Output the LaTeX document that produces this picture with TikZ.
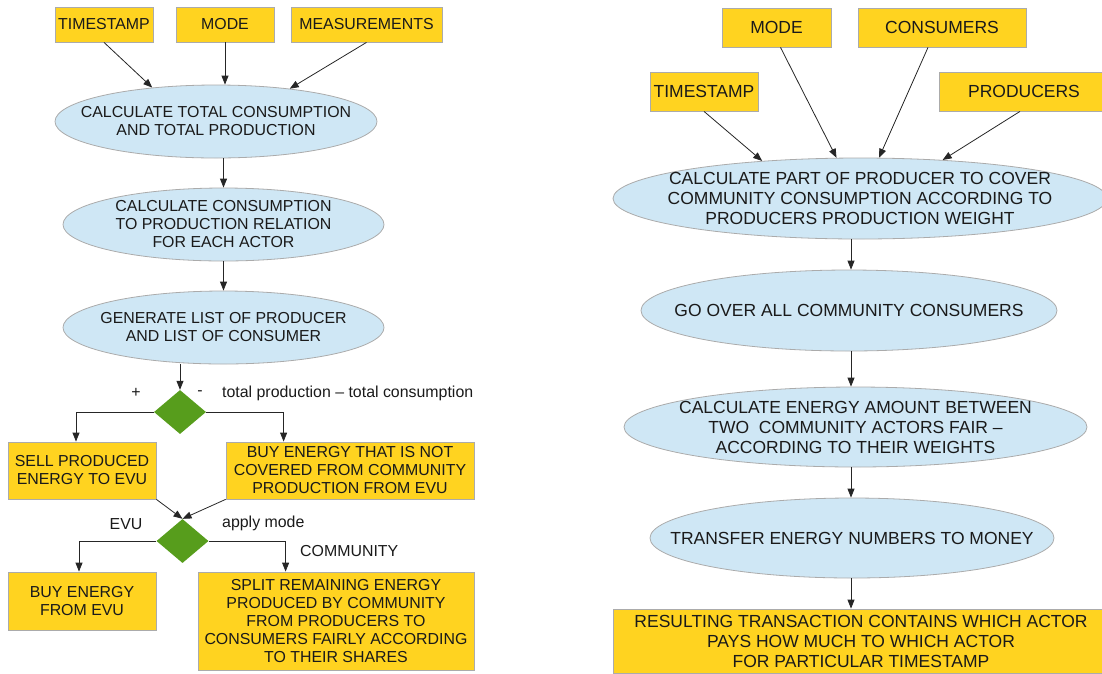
\documentclass[tikz,border=0pt]{standalone}
\usepackage{fontspec}
\setmainfont{Liberation Sans}
\usepackage{tikz}
\usetikzlibrary{arrows.meta,shapes.geometric,positioning,calc}
\definecolor{inyellow}{HTML}{FFD320}
\definecolor{procblue}{HTML}{CFE7F5}
\definecolor{decgreen}{HTML}{579D1C}
\definecolor{edgegray}{HTML}{ABABAB}
\definecolor{txt}{HTML}{1A1A1A}
\tikzset{wh/.style 2 args={minimum width=#1, minimum height=#2},
         small/.style={font=\fontsize{15.9}{18}\selectfont},
         big/.style={font=\fontsize{17.5}{20}\selectfont},
         inbox/.style={draw=edgegray, fill=inyellow, line width=0.8pt, inner sep=0pt, align=center, text=txt},
         proc/.style={ellipse, draw=edgegray, fill=procblue, line width=0.8pt, inner sep=0pt},
         ptext/.style={align=center, text=txt, inner sep=0pt},
         dec/.style={diamond, fill=decgreen, inner sep=0pt, minimum width=52pt, minimum height=44pt},
         lbl/.style={inner sep=0pt, text=txt},
         flow/.style={-{Triangle[length=9pt,width=7pt]}, draw=black!85, line width=0.8pt}
        }
\begin{document}
\begin{tikzpicture}[x=1pt,y=-1pt,small]
\useasboundingbox (0,0) rectangle (1102,673);
\node[inbox, wh={98pt}{35pt}] at (104,24.5)(ts1){TIMESTAMP};
\node[inbox, wh={98pt}{35pt}] at (225,24.5)(md1){MODE};
\node[inbox, wh={151pt}{35pt}] at (366.5,24.5)(ms1){MEASUREMENTS};
\node[proc, wh={322pt}{73pt}, label={[ptext,small]center:CALCULATE TOTAL CONSUMPTION\\AND TOTAL PRODUCTION}] at (216,121.5)(tot){};
\node[proc, wh={321pt}{73pt}, label={[ptext,small]center:CALCULATE CONSUMPTION\\TO PRODUCTION RELATION\\FOR EACH ACTOR}] at (223.5,224.5)(rel){};
\node[proc, wh={321pt}{73pt}, label={[ptext,small]center:GENERATE LIST OF PRODUCER\\AND LIST OF CONSUMER}] at (223.5,327.5)(gen){};
\node[dec] at (180,412)(dia1){};
\node[lbl] at (136,393)(plus){+};
\node[lbl] at (200,393)(minus){-};
\node[lbl, anchor=west] at (222,393)(diff){total production -- total consumption};
\node[inbox, wh={148pt}{57pt}] at (82,470.5)(sell){SELL PRODUCED\\ENERGY TO EVU};
\node[inbox, wh={248pt}{57pt}] at (350,470.5)(buy){BUY ENERGY THAT IS NOT\\COVERED FROM COMMUNITY\\PRODUCTION FROM EVU};
\node[dec] at (182.5,541)(dia2){};
\node[lbl] at (126,524)(evul){EVU};
\node[lbl, anchor=west] at (222,523)(model){apply mode};
\node[lbl, anchor=west] at (300,551)(coml){COMMUNITY};
\node[inbox, wh={148pt}{58pt}] at (82,601)(evu){BUY ENERGY\\FROM EVU};
\node[inbox, wh={276pt}{98pt}] at (336,621)(split){SPLIT REMAINING ENERGY\\PRODUCED BY COMMUNITY\\FROM PRODUCERS TO\\CONSUMERS FAIRLY ACCORDING\\TO THEIR SHARES};
\draw[flow](ts1.south) -- (tot.152);
\draw[flow](md1.south) -- (md1.south |- tot.north);
\draw[flow](ms1.south) -- (tot.24);
\draw[flow](rel.north |- tot.south) -- (rel.north);
\draw[flow](rel.south) -- (gen.north);
\draw[flow](dia1.north |- gen.south) -- (dia1.north);
\draw[flow](dia1.west) -| ([xshift=-6pt]sell.north);
\draw[flow](dia1.east) -| ([xshift=58pt]buy.north west);
\draw[flow](sell.south east) -- (dia2.north);
\draw[flow](buy.south west) -- (dia2.north);
\draw[flow](dia2.west) -| ([xshift=-3pt]evu.north);
\draw[flow](dia2.east) -| ([xshift=88pt]split.north west);
\node[inbox, big, wh={109pt}{39pt}] at (776.5,27.5)(md2){MODE};
\node[inbox, big, wh={168pt}{39pt}] at (942,27.5)(cs2){CONSUMERS};
\node[inbox, big, wh={108pt}{39pt}] at (704,91.5)(ts2){TIMESTAMP};
\node[inbox, big, wh={170pt}{39pt}] at (1024,91.5)(pr2){PRODUCERS};
\node[proc, wh={494pt}{81pt}, label={[ptext,big]center:CALCULATE PART OF PRODUCER TO COVER\\COMMUNITY CONSUMPTION ACCORDING TO\\PRODUCERS PRODUCTION WEIGHT}] at (860,198.5)(part){};
\node[proc, wh={416pt}{81pt}, label={[ptext,big]center:GO OVER ALL COMMUNITY CONSUMERS}] at (849,310.5)(all){};
\node[proc, wh={463pt}{80pt}, label={[ptext,big]center:CALCULATE ENERGY AMOUNT BETWEEN\\TWO\ \ COMMUNITY ACTORS FAIR --\\ACCORDING TO THEIR WEIGHTS}] at (855.5,427)(fair){};
\node[proc, wh={404pt}{80pt}, label={[ptext,big]center:TRANSFER ENERGY NUMBERS TO MONEY}] at (852,538)(money){};
\node[inbox, big, wh={496pt}{64pt}] at (861,641)(res){RESULTING TRANSACTION CONTAINS WHICH ACTOR\\PAYS HOW MUCH TO WHICH ACTOR\\FOR PARTICULAR TIMESTAMP};
\coordinate (axis) at (851,0);
\draw[flow](ts2.south) -- (part.159);
\draw[flow]([xshift=4pt]md2.south) -- (part.120);
\draw[flow]([xshift=-14pt]cs2.south) -- (part.65);
\draw[flow]([xshift=-4pt]pr2.south) -- (part.25);
\draw[flow](axis |- part.south) -- (axis |- all.north);
\draw[flow](axis |- all.south) -- (axis |- fair.north);
\draw[flow](axis |- fair.south) -- (axis |- money.north);
\draw[flow](axis |- money.south) -- (axis |- res.north);
\end{tikzpicture}
\end{document}
